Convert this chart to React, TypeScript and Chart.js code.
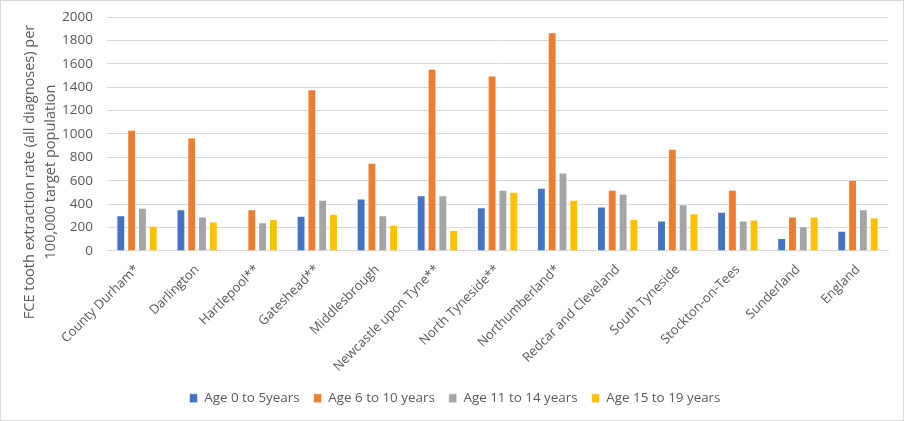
import { useEffect, useRef } from "react";
import { Chart, registerables, Plugin } from "chart.js";

Chart.register(...registerables);

const areas = [
  "County Durham*",
  "Darlington",
  "Hartlepool**",
  "Gateshead**",
  "Middlesbrough",
  "Newcastle upon Tyne**",
  "North Tyneside**",
  "Northumberland*",
  "Redcar and Cleveland",
  "South Tyneside",
  "Stockton-on-Tees",
  "Sunderland",
  "England",
];

const age0to5 = [306, 357, null, 301, 448, 476, 374, 539, 380, 261, 335, 110, 173];
const age6to10 = [1037, 969, 357, 1382, 754, 1558, 1499, 1869, 522, 873, 522, 295, 609];
const age11to14 = [369, 295, 246, 437, 306, 476, 524, 671, 488, 399, 261, 210, 357];
const age15to19 = [216, 252, 272, 318, 224, 178, 505, 437, 272, 323, 269, 295, 286];

const seriesNames = ["Age 0 to 5years", "Age 6 to 10 years", "Age 11 to 14 years", "Age 15 to 19 years"];
const seriesColors = ["#4472C4", "#ED7D31", "#A5A5A5", "#FFC000"];
const yTitle = ["FCE tooth extraction rate (all diagnoses) per", "100,000 target population"];

const FONT = "'Open Sans', sans-serif";

// y axis title sits lower than the plot centre in the original, so draw it by hand
const yTitlePlugin: Plugin<"bar"> = {
  id: "yTitle",
  afterDraw(chart) {
    const { ctx } = chart;
    ctx.save();
    ctx.fillStyle = "#595959";
    ctx.font = `14.5px ${FONT}`;
    ctx.textAlign = "center";
    ctx.textBaseline = "middle";
    yTitle.forEach((line, i) => {
      ctx.save();
      ctx.translate(29 + i * 21, 171);
      ctx.rotate(-Math.PI / 2);
      ctx.fillText(line, 0, 0);
      ctx.restore();
    });
    ctx.restore();
  },
};

export default function App() {
  const canvasRef = useRef<HTMLCanvasElement>(null);
  const chartRef = useRef<Chart | null>(null);

  useEffect(() => {
    document.body.style.margin = "0";
    if (!canvasRef.current) return;
    if (chartRef.current) {
      chartRef.current.destroy();
      chartRef.current = null;
    }

    const values = [age0to5, age6to10, age11to14, age15to19];
    const ctx = canvasRef.current.getContext("2d");
    if (!ctx) return;

    chartRef.current = new Chart(ctx, {
      type: "bar",
      data: {
        labels: areas,
        datasets: values.map((data, i) => ({
          label: seriesNames[i],
          data,
          backgroundColor: seriesColors[i],
          borderColor: "rgba(255,255,255,0.6)",
          borderWidth: 1,
          categoryPercentage: 0.72,
          barPercentage: 0.82,
        })),
      },
      options: {
        responsive: true,
        maintainAspectRatio: false,
        animation: false,
        layout: { padding: { left: 21, right: 15, top: 16, bottom: 5 } },
        plugins: {
          legend: {
            position: "bottom",
            labels: {
              boxWidth: 8,
              boxHeight: 9,
              padding: 14,
              color: "#595959",
              font: { family: FONT, size: 13.4 },
            },
          },
          tooltip: { enabled: false },
        },
        scales: {
          x: {
            grid: { display: false },
            border: { color: "#d9d9d9" },
            ticks: {
              minRotation: 45,
              maxRotation: 45,
              autoSkip: false,
              color: "#595959",
              font: { family: FONT, size: 13 },
            },
          },
          y: {
            min: 0,
            max: 2000,
            border: { display: false },
            grid: { color: "#d9d9d9", lineWidth: 1, drawTicks: false },
            afterFit: (scale) => {
              scale.width = 85;
              scale.paddingTop = 0;
            },
            ticks: {
              stepSize: 200,
              padding: 14,
              color: "#595959",
              font: { family: FONT, size: 13.5 },
              callback: (v: number | string) => String(v),
            },
          },
        },
      },
      plugins: [yTitlePlugin],
    });

    return () => {
      if (chartRef.current) {
        chartRef.current.destroy();
        chartRef.current = null;
      }
    };
  }, []);

  return (
    <div
      style={{
        width: 904,
        height: 421,
        boxSizing: "border-box",
        border: "1px solid #d9d9d9",
        background: "#fff",
        position: "relative",
      }}
    >
      <canvas ref={canvasRef}></canvas>
    </div>
  );
}
